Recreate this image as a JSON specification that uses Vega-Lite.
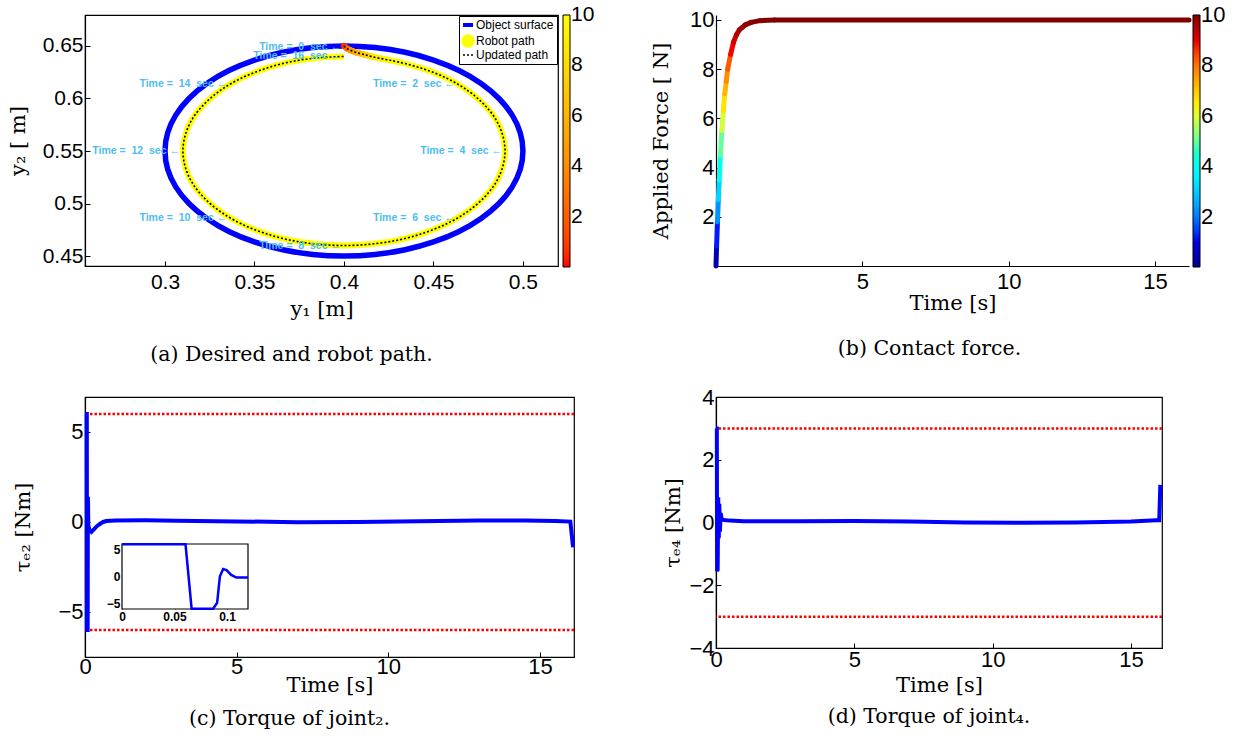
{
  "$schema": "https://vega.github.io/schema/vega-lite/v6.json",
  "background": "white",
  "padding": {"left": 6, "top": 8, "right": 0, "bottom": 0},
  "columns": 2,
  "spacing": {"row": 122, "column": 142},
  "bounds": "flush",
  "align": "all",
  "resolve": {"scale": {"color": "independent", "stroke": "independent"}},
  "datasets": {
    "surface": [{"o":0,"x":0.4,"y":0.65},{"o":1,"x":0.4174,"y":0.6485},{"o":2,"x":0.4342,"y":0.644},{"o":3,"x":0.45,"y":0.6366},{"o":4,"x":0.4643,"y":0.6266},{"o":5,"x":0.4766,"y":0.6143},{"o":6,"x":0.4866,"y":0.6},{"o":7,"x":0.494,"y":0.5842},{"o":8,"x":0.4985,"y":0.5674},{"o":9,"x":0.5,"y":0.55},{"o":10,"x":0.4985,"y":0.5326},{"o":11,"x":0.494,"y":0.5158},{"o":12,"x":0.4866,"y":0.5},{"o":13,"x":0.4766,"y":0.4857},{"o":14,"x":0.4643,"y":0.4734},{"o":15,"x":0.45,"y":0.4634},{"o":16,"x":0.4342,"y":0.456},{"o":17,"x":0.4174,"y":0.4515},{"o":18,"x":0.4,"y":0.45},{"o":19,"x":0.3826,"y":0.4515},{"o":20,"x":0.3658,"y":0.456},{"o":21,"x":0.35,"y":0.4634},{"o":22,"x":0.3357,"y":0.4734},{"o":23,"x":0.3234,"y":0.4857},{"o":24,"x":0.3134,"y":0.5},{"o":25,"x":0.306,"y":0.5158},{"o":26,"x":0.3015,"y":0.5326},{"o":27,"x":0.3,"y":0.55},{"o":28,"x":0.3015,"y":0.5674},{"o":29,"x":0.306,"y":0.5842},{"o":30,"x":0.3134,"y":0.6},{"o":31,"x":0.3234,"y":0.6143},{"o":32,"x":0.3357,"y":0.6266},{"o":33,"x":0.35,"y":0.6366},{"o":34,"x":0.3658,"y":0.644},{"o":35,"x":0.3826,"y":0.6485}],
    "robot": [{"o":0,"x":0.4,"y":0.65},{"o":1,"x":0.4015,"y":0.6478},{"o":2,"x":0.4035,"y":0.646},{"o":3,"x":0.4065,"y":0.644},{"o":4,"x":0.411,"y":0.642},{"o":5,"x":0.4156,"y":0.6398},{"o":6,"x":0.4232,"y":0.6372},{"o":7,"x":0.4308,"y":0.6346},{"o":8,"x":0.445,"y":0.6279},{"o":9,"x":0.4579,"y":0.6189},{"o":10,"x":0.4689,"y":0.6079},{"o":11,"x":0.4779,"y":0.595},{"o":12,"x":0.4846,"y":0.5808},{"o":13,"x":0.4886,"y":0.5656},{"o":14,"x":0.49,"y":0.55},{"o":15,"x":0.4886,"y":0.5344},{"o":16,"x":0.4846,"y":0.5192},{"o":17,"x":0.4779,"y":0.505},{"o":18,"x":0.4689,"y":0.4921},{"o":19,"x":0.4579,"y":0.4811},{"o":20,"x":0.445,"y":0.4721},{"o":21,"x":0.4308,"y":0.4654},{"o":22,"x":0.4156,"y":0.4614},{"o":23,"x":0.4,"y":0.46},{"o":24,"x":0.3844,"y":0.4614},{"o":25,"x":0.3692,"y":0.4654},{"o":26,"x":0.355,"y":0.4721},{"o":27,"x":0.3421,"y":0.4811},{"o":28,"x":0.3311,"y":0.4921},{"o":29,"x":0.3221,"y":0.505},{"o":30,"x":0.3154,"y":0.5192},{"o":31,"x":0.3114,"y":0.5344},{"o":32,"x":0.31,"y":0.55},{"o":33,"x":0.3114,"y":0.5656},{"o":34,"x":0.3154,"y":0.5808},{"o":35,"x":0.3221,"y":0.595},{"o":36,"x":0.3311,"y":0.6079},{"o":37,"x":0.3421,"y":0.6189},{"o":38,"x":0.355,"y":0.6279},{"o":39,"x":0.3692,"y":0.6346},{"o":40,"x":0.3844,"y":0.6386},{"o":41,"x":0.4,"y":0.64}],
    "rseg": [{"x":0.4,"y":0.65,"x2":0.4015,"y2":0.6478,"F":0.5},{"x":0.4015,"y":0.6478,"x2":0.4035,"y2":0.646,"F":2.5},{"x":0.4035,"y":0.646,"x2":0.4065,"y2":0.644,"F":4.5},{"x":0.4065,"y":0.644,"x2":0.411,"y2":0.642,"F":6},{"x":0.411,"y":0.642,"x2":0.4156,"y2":0.6398,"F":7.5},{"x":0.4156,"y":0.6398,"x2":0.4232,"y2":0.6372,"F":9},{"x":0.4232,"y":0.6372,"x2":0.4308,"y2":0.6346,"F":9.8}],
    "annot": [{"x":0.4,"y":0.6495,"label":"Time =\u00a0 0\u00a0 sec \u2190"},{"x":0.4636,"y":0.6136,"label":"Time =\u00a0 2\u00a0 sec \u2190"},{"x":0.49,"y":0.55,"label":"Time =\u00a0 4\u00a0 sec \u2190"},{"x":0.4636,"y":0.4864,"label":"Time =\u00a0 6\u00a0 sec \u2190"},{"x":0.4,"y":0.46,"label":"Time =\u00a0 8\u00a0 sec \u2190"},{"x":0.3364,"y":0.4864,"label":"Time =\u00a0 10\u00a0 sec \u2190"},{"x":0.31,"y":0.55,"label":"Time =\u00a0 12\u00a0 sec \u2190"},{"x":0.3364,"y":0.6136,"label":"Time =\u00a0 14\u00a0 sec \u2190"},{"x":0.4,"y":0.64,"label":"Time =\u00a0 16\u00a0 sec \u2190"}],
    "force": [{"t":0,"F":0,"t2":0.02,"F2":0.8,"c":0.4},{"t":0.02,"F":0.8,"t2":0.05,"F2":1.8,"c":1.3},{"t":0.05,"F":1.8,"t2":0.08,"F2":2.7,"c":2.25},{"t":0.08,"F":2.7,"t2":0.11,"F2":3.5,"c":3.1},{"t":0.11,"F":3.5,"t2":0.15,"F2":4.5,"c":4.0},{"t":0.15,"F":4.5,"t2":0.2,"F2":5.5,"c":5.0},{"t":0.2,"F":5.5,"t2":0.25,"F2":6.3,"c":5.9},{"t":0.25,"F":6.3,"t2":0.3,"F2":7.0,"c":6.65},{"t":0.3,"F":7.0,"t2":0.35,"F2":7.5,"c":7.25},{"t":0.35,"F":7.5,"t2":0.4,"F2":8.0,"c":7.75},{"t":0.4,"F":8.0,"t2":0.5,"F2":8.6,"c":8.3},{"t":0.5,"F":8.6,"t2":0.6,"F2":9.1,"c":8.85},{"t":0.6,"F":9.1,"t2":0.7,"F2":9.4,"c":9.25},{"t":0.7,"F":9.4,"t2":0.8,"F2":9.6,"c":9.5},{"t":0.8,"F":9.6,"t2":0.9,"F2":9.7,"c":9.65},{"t":0.9,"F":9.7,"t2":1.0,"F2":9.8,"c":9.75},{"t":1.0,"F":9.8,"t2":1.2,"F2":9.9,"c":9.85},{"t":1.2,"F":9.9,"t2":1.5,"F2":9.97,"c":9.93},{"t":1.5,"F":9.97,"t2":2,"F2":10,"c":9.98},{"t":2,"F":10,"t2":16.16,"F2":10,"c":10}],
    "tc": [{"t":0,"tau":6},{"t":0.06,"tau":6},{"t":0.066,"tau":-6},{"t":0.088,"tau":-6},{"t":0.093,"tau":0},{"t":0.097,"tau":1.4},{"t":0.1,"tau":1.2},{"t":0.105,"tau":0.3},{"t":0.11,"tau":-0.2},{"t":0.15,"tau":-0.45},{"t":0.21,"tau":-0.55},{"t":0.3,"tau":-0.4},{"t":0.4,"tau":-0.22},{"t":0.5,"tau":-0.1},{"t":0.6,"tau":0.0},{"t":0.7,"tau":0.05},{"t":1.0,"tau":0.08},{"t":2,"tau":0.09},{"t":3,"tau":0.07},{"t":5,"tau":0.03},{"t":7,"tau":-0.01},{"t":9,"tau":0.0},{"t":11,"tau":0.04},{"t":13,"tau":0.08},{"t":14.5,"tau":0.08},{"t":15.5,"tau":0.05},{"t":16.0,"tau":0.02},{"t":16.02,"tau":-0.3},{"t":16.09,"tau":-1.4}],
    "inset": [{"ti":0,"vi":6},{"ti":0.0605,"vi":6},{"ti":0.0663,"vi":-6},{"ti":0.0868,"vi":-6},{"ti":0.0906,"vi":-4.9},{"ti":0.0932,"vi":0},{"ti":0.0963,"vi":1.4},{"ti":0.0995,"vi":1.2},{"ti":0.104,"vi":0.3},{"ti":0.109,"vi":-0.2},{"ti":0.12,"vi":-0.2}],
    "td": [{"t":0,"tau":3},{"t":0.03,"tau":3},{"t":0.04,"tau":-1.55},{"t":0.06,"tau":-1.5},{"t":0.08,"tau":0.8},{"t":0.1,"tau":-0.5},{"t":0.12,"tau":0.6},{"t":0.14,"tau":-0.3},{"t":0.17,"tau":0.3},{"t":0.2,"tau":0.1},{"t":0.3,"tau":0.08},{"t":0.5,"tau":0.06},{"t":1,"tau":0.04},{"t":3,"tau":0.04},{"t":5,"tau":0.05},{"t":7,"tau":0.03},{"t":9,"tau":0.0},{"t":11,"tau":-0.01},{"t":13,"tau":0.0},{"t":15,"tau":0.03},{"t":15.9,"tau":0.07},{"t":16.02,"tau":0.07},{"t":16.06,"tau":1.2}],
    "limC": [{"lim":6},{"lim":-6}],
    "limD": [{"lim":3},{"lim":-3}]
  },
  "concat": [
    {
      "width": 473, "height": 251,
      "title": {"text": "(a) Desired and robot path.", "orient": "bottom", "offset": 26, "dx": -30},
      "encoding": {
        "x": {"field": "x", "type": "quantitative", "scale": {"domain": [0.2553, 0.5196], "nice": false, "zero": false}, "axis": {"values": [0.3, 0.35, 0.4, 0.45, 0.5], "format": ".2~f", "title": "y₁ [m]", "labelFontSize": 21, "labelPadding": 10, "titlePadding": 6}},
        "y": {"field": "y", "type": "quantitative", "scale": {"domain": [0.4405, 0.6795], "nice": false, "zero": false}, "axis": {"values": [0.45, 0.5, 0.55, 0.6, 0.65], "format": ".2~f", "title": "y₂ [ m]", "labelFontSize": 21, "labelPadding": 7, "titlePadding": 14}}
      },
      "layer": [
        {"data": {"name": "surface"}, "mark": {"type": "line", "interpolate": "cardinal-closed", "strokeWidth": 5.5},
         "encoding": {"order": {"field": "o", "type": "quantitative"},
           "stroke": {"datum": "Object surface", "type": "nominal",
             "scale": {"domain": ["Object surface", "Robot path", "Updated path"], "range": ["#0000ff", "#ffff00", "#000000"]},
             "legend": {"title": null, "orient": "top-right", "offset": 1, "strokeColor": "black", "fillColor": "white", "padding": 3, "labelFont": "Liberation Sans", "labelFontSize": 12, "labelColor": "black", "rowPadding": 1, "symbolSize": 100, "labelOffset": 2,
               "encode": {"symbols": {"update": {
                 "shape": {"signal": "datum.value === 'Robot path' ? 'circle' : 'stroke'"},
                 "size": {"signal": "datum.value === 'Robot path' ? 180 : 100"},
                 "fill": {"signal": "datum.value === 'Robot path' ? '#ffff00' : 'transparent'"},
                 "strokeWidth": {"signal": "datum.value === 'Object surface' ? 4 : (datum.value === 'Robot path' ? 0 : 1.5)"},
                 "strokeDash": {"signal": "datum.value === 'Updated path' ? [2, 2] : [1, 0]"}
               }}}}}}},
        {"data": {"name": "robot"}, "mark": {"type": "line", "interpolate": "catmull-rom", "strokeWidth": 6},
         "encoding": {"order": {"field": "o", "type": "quantitative"}, "stroke": {"datum": "Robot path", "type": "nominal"}}},
        {"data": {"name": "rseg"}, "mark": {"type": "rule", "strokeWidth": 6, "strokeCap": "round"},
         "encoding": {"x2": {"field": "x2"}, "y2": {"field": "y2"},
           "color": {"field": "F", "type": "quantitative", "scale": {"domain": [0, 10], "range": ["#ff0000", "#ffff00"]},
             "legend": {"title": null, "orient": "right", "offset": 5, "direction": "vertical", "gradientLength": 252, "gradientThickness": 7, "gradientStrokeColor": "black", "gradientStrokeWidth": 1, "values": [2, 4, 6, 8, 10], "labelFont": "Liberation Sans", "labelFontSize": 21, "labelColor": "black", "labelOffset": 1, "labelOverlap": false, "padding": 0,
               "encode": {"labels": {"update": {"baseline": {"value": "middle"}}}}}}}},
        {"data": {"name": "robot"}, "mark": {"type": "line", "interpolate": "catmull-rom", "strokeWidth": 1.6, "strokeDash": [2, 2]},
         "encoding": {"order": {"field": "o", "type": "quantitative"}, "stroke": {"datum": "Updated path", "type": "nominal"}}},
        {"data": {"name": "annot"}, "mark": {"type": "text", "align": "right", "baseline": "middle", "dx": -3, "font": "Liberation Sans", "fontSize": 10.5, "fontWeight": "bold", "color": "#4DBEEE"},
         "encoding": {"text": {"field": "label", "type": "nominal"}}}
      ]
    },
    {
      "width": 473, "height": 251,
      "view": {"stroke": null},
      "title": {"text": "(b) Contact force.", "orient": "bottom", "offset": 26, "dx": -23},
      "data": {"name": "force"},
      "mark": {"type": "rule", "strokeWidth": 5, "strokeCap": "round"},
      "encoding": {
        "x": {"field": "t", "type": "quantitative", "scale": {"domain": [0, 16.16], "nice": false, "zero": false}, "axis": {"values": [5, 10, 15], "title": "Time [s]", "labelPadding": 10, "titlePadding": 0}},
        "x2": {"field": "t2"},
        "y": {"field": "F", "type": "quantitative", "scale": {"domain": [0, 10.2], "nice": false, "zero": false}, "axis": {"values": [2, 4, 6, 8, 10], "title": "Applied Force [ N]", "labelPadding": 7, "titlePadding": 18}},
        "y2": {"field": "F2"},
        "color": {"field": "c", "type": "quantitative",
          "scale": {"domain": [0, 1.25, 3.75, 6.25, 8.75, 10], "range": ["#00008f", "#0000ff", "#00ffff", "#ffff00", "#ff0000", "#800000"]},
          "legend": {"title": null, "orient": "right", "offset": 4, "direction": "vertical", "gradientLength": 252, "gradientThickness": 7, "gradientStrokeColor": "black", "gradientStrokeWidth": 1, "values": [2, 4, 6, 8, 10], "labelFont": "Liberation Sans", "labelFontSize": 22, "labelColor": "black", "labelOffset": 1, "labelOverlap": false, "padding": 0,
            "encode": {"labels": {"update": {"baseline": {"value": "middle"}}}}}}
      }
    },
    {
      "width": 489, "height": 260,
      "title": {"text": "(c) Torque of joint₂.", "orient": "bottom", "offset": 14, "dx": -40},
      "layer": [
        {"layer": [
          {"data": {"name": "limC"}, "mark": {"type": "rule", "color": "#ff0000", "strokeWidth": 2.5, "strokeDash": [2.5, 2]},
           "encoding": {"y": {"field": "lim", "type": "quantitative", "scale": {"domain": [-7.5, 6.94], "nice": false, "zero": false}, "axis": {"values": [-5, 0, 5], "title": "τₑ₂ [Nm]", "labelPadding": 7, "titlePadding": 24}}}},
          {"data": {"name": "tc"}, "mark": {"type": "line", "color": "#0000ff", "strokeWidth": 4},
           "encoding": {
             "x": {"field": "t", "type": "quantitative", "scale": {"domain": [0, 16.12], "nice": false, "zero": false}, "axis": {"values": [0, 5, 10, 15], "title": "Time [s]", "labelPadding": 4, "titlePadding": -3}},
             "y": {"field": "tau", "type": "quantitative", "scale": {"domain": [-7.5, 6.94], "nice": false, "zero": false}}}}
        ]},
        {"layer": [
          {"data": {"values": [{}]}, "mark": {"type": "rect", "fill": "white", "stroke": "black", "strokeWidth": 1.2},
           "encoding": {
             "x": {"datum": 0, "type": "quantitative", "scale": {"domain": [0, 0.12], "range": [37, 163], "nice": false, "zero": false},
               "axis": {"orient": "bottom", "offset": -48, "values": [0, 0.05, 0.1], "format": "~g", "title": null, "labelFontSize": 12, "labelFontWeight": "bold", "domain": false, "tickSize": -3, "labelPadding": 5}},
             "x2": {"datum": 0.12},
             "y": {"datum": -6.05, "type": "quantitative", "scale": {"domain": [-6.05, 6.05], "range": [212, 147], "nice": false, "zero": false},
               "axis": {"orient": "left", "offset": -37, "values": [-5, 0, 5], "title": null, "labelFontSize": 12, "labelFontWeight": "bold", "domain": false, "tickSize": -3, "labelPadding": 5}},
             "y2": {"datum": 6.05}}},
          {"data": {"name": "inset"}, "mark": {"type": "line", "color": "#0000ff", "strokeWidth": 2.5},
           "encoding": {
             "x": {"field": "ti", "type": "quantitative", "scale": {"domain": [0, 0.12], "range": [37, 163], "nice": false, "zero": false}},
             "y": {"field": "vi", "type": "quantitative", "scale": {"domain": [-6.05, 6.05], "range": [212, 147], "nice": false, "zero": false}}}}
        ]}
      ],
      "resolve": {"scale": {"x": "independent", "y": "independent"}, "axis": {"x": "independent", "y": "independent"}}
    },
    {
      "width": 446, "height": 251,
      "title": {"text": "(d) Torque of joint₄.", "orient": "bottom", "offset": 12, "dx": -10},
      "layer": [
        {"data": {"name": "limD"}, "mark": {"type": "rule", "color": "#ff0000", "strokeWidth": 2.5, "strokeDash": [2.5, 2]},
         "encoding": {"y": {"field": "lim", "type": "quantitative", "scale": {"domain": [-4, 4], "nice": false, "zero": false}, "axis": {"values": [-4, -2, 0, 2, 4], "title": "τₑ₄ [Nm]", "labelPadding": 7, "titlePadding": 5}}}},
        {"data": {"name": "td"}, "mark": {"type": "line", "color": "#0000ff", "strokeWidth": 4},
         "encoding": {
           "x": {"field": "t", "type": "quantitative", "scale": {"domain": [0, 16.12], "nice": false, "zero": false}, "axis": {"values": [0, 5, 10, 15], "title": "Time [s]", "labelPadding": 6, "titlePadding": 4}},
           "y": {"field": "tau", "type": "quantitative", "scale": {"domain": [-4, 4], "nice": false, "zero": false}}}}
      ]
    }
  ],
  "config": {
    "view": {"stroke": "black", "strokeWidth": 1.2},
    "axis": {"labelFont": "Liberation Sans", "labelFontSize": 22, "labelColor": "black", "titleFont": "DejaVu Serif", "titleFontSize": 21, "titleFontWeight": "normal", "titleColor": "black", "domainColor": "black", "domainWidth": 1.2, "tickColor": "black", "tickSize": -5, "grid": false, "labelFlush": false, "labelOverlap": false},
    "legend": {"labelFont": "Liberation Sans", "labelColor": "black"},
    "title": {"font": "DejaVu Serif", "fontSize": 20.5, "fontWeight": "normal", "color": "black"}
  }
}
